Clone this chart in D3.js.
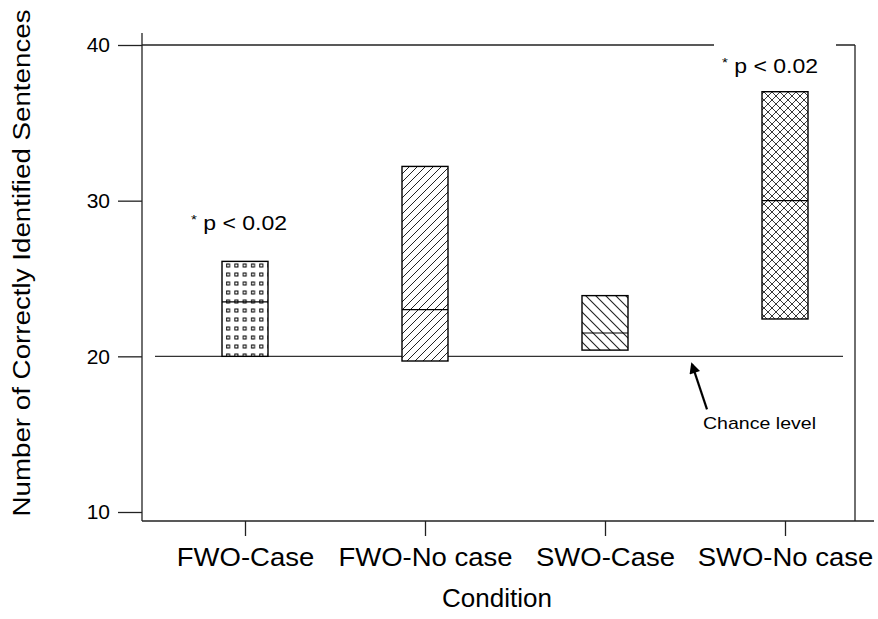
<!DOCTYPE html>
<html>
<head>
<meta charset="utf-8">
<script src="https://cdn.jsdelivr.net/npm/d3@7"></script>
<style>
  body { margin: 0; background: #fff; }
  svg { display: block; font-family: "Liberation Sans", Arial, sans-serif; }
</style>
</head>
<body>
<svg id="chart" width="878" height="619"></svg>
<script>
// Conditions and box values (low, median, high)
const conditions = ["FWO-Case", "FWO-No case", "SWO-Case", "SWO-No case"];
const lows = [20.0, 19.7, 20.4, 22.4];
const medians = [23.5, 23.0, 21.5, 30.0];
const highs = [26.1, 32.2, 23.9, 37.0];
const fills = ["squares", "forward", "back", "cross"];
const yTicks = [10, 20, 30, 40];
const chanceLevel = 20;
const noteConds = ["FWO-Case", "SWO-No case"];
const noteValues = [28.6, 38.7];

const svg = d3.select("#chart");

const y = d3.scaleLinear().domain([10, 40]).range([512, 45]);
const x = d3.scalePoint().domain(conditions).range([245, 785]);
const boxW = 46;

// the original text is drawn a bit wide, stretch it along the baseline
const widen = (sel, k) => sel.each(function () {
    const w = this.getComputedTextLength();
    d3.select(this).attr("textLength", w * k).attr("lengthAdjust", "spacingAndGlyphs");
});

// patterns
const defs = svg.append("defs");
let p = defs.append("pattern").attr("id", "squares").attr("patternUnits", "userSpaceOnUse")
    .attr("width", 8.3).attr("height", 9);
p.append("rect").attr("width", 8.3).attr("height", 9).attr("fill", "#fff");
p.append("rect").attr("x", 2.5).attr("y", 3).attr("width", 3).attr("height", 3)
    .attr("fill", "none").attr("stroke", "#000").attr("stroke-width", 1);

p = defs.append("pattern").attr("id", "forward").attr("patternUnits", "userSpaceOnUse")
    .attr("width", 8).attr("height", 8);
p.append("rect").attr("width", 8).attr("height", 8).attr("fill", "#fff");
p.append("path").attr("d", "M-2,2 L2,-2 M0,8 L8,0 M6,10 L10,6")
    .attr("stroke", "#222").attr("stroke-width", 1);

p = defs.append("pattern").attr("id", "back").attr("patternUnits", "userSpaceOnUse")
    .attr("width", 10).attr("height", 10);
p.append("rect").attr("width", 10).attr("height", 10).attr("fill", "#fff");
p.append("path").attr("d", "M-2,8 L2,12 M0,0 L10,10 M8,-2 L12,2")
    .attr("stroke", "#222").attr("stroke-width", 1.1);

p = defs.append("pattern").attr("id", "cross").attr("patternUnits", "userSpaceOnUse")
    .attr("width", 8).attr("height", 8);
p.append("rect").attr("width", 8).attr("height", 8).attr("fill", "#fff");
p.append("path").attr("d", "M0,0 L8,8 M0,8 L8,0 M-1,1 L1,-1 M7,9 L9,7 M-1,7 L1,9 M7,-1 L9,1")
    .attr("stroke", "#222").attr("stroke-width", 0.9);

defs.append("marker").attr("id", "arrow").attr("viewBox", "0 0 10 10")
    .attr("refX", 8).attr("refY", 5).attr("markerWidth", 6).attr("markerHeight", 5)
    .attr("orient", "auto")
    .append("path").attr("d", "M0,0 L10,5 L0,10 z").attr("fill", "#000");

// frame: top and right
svg.append("line").attr("x1", 142).attr("x2", 855).attr("y1", y(40)).attr("y2", y(40))
    .attr("stroke", "#222").attr("stroke-width", 1.3);
svg.append("line").attr("x1", 855).attr("x2", 855).attr("y1", y(40)).attr("y2", 521)
    .attr("stroke", "#222").attr("stroke-width", 1.3);
const gap = svg.append("rect").attr("fill", "#fff");

// y axis
const yAxis = svg.append("g").attr("transform", "translate(142,0)")
    .call(d3.axisLeft(y).tickValues(yTicks).tickSize(24).tickPadding(8));
yAxis.select(".domain").remove();
yAxis.selectAll(".tick line").attr("stroke", "#222").attr("stroke-width", 1.3);
yAxis.selectAll(".tick text").attr("font-size", 21).attr("fill", "#000")
    .attr("font-family", "Liberation Sans, Arial, sans-serif");
svg.append("line").attr("x1", 142).attr("x2", 142).attr("y1", 33).attr("y2", 521)
    .attr("stroke", "#222").attr("stroke-width", 1.3);

// x axis
const xAxis = svg.append("g").attr("transform", "translate(0,521)")
    .call(d3.axisBottom(x).tickSize(15).tickPadding(12));
xAxis.select(".domain").remove();
xAxis.selectAll(".tick line").attr("stroke", "#222").attr("stroke-width", 1.3);
xAxis.selectAll(".tick text").attr("font-size", 25).attr("fill", "#000")
    .attr("font-family", "Liberation Sans, Arial, sans-serif")
    .call(widen, 1.1);
svg.append("line").attr("x1", 142).attr("x2", 874).attr("y1", 521).attr("y2", 521)
    .attr("stroke", "#222").attr("stroke-width", 1.3);

// chance line
svg.append("line").attr("x1", 155).attr("x2", 843).attr("y1", y(chanceLevel)).attr("y2", y(chanceLevel))
    .attr("stroke", "#333").attr("stroke-width", 1.3);

// boxes
const boxes = svg.append("g").selectAll("g").data(conditions).join("g");
boxes.append("rect")
    .attr("x", d => x(d) - boxW / 2)
    .attr("width", boxW)
    .attr("y", (d, i) => y(highs[i]))
    .attr("height", (d, i) => y(lows[i]) - y(highs[i]))
    .attr("fill", (d, i) => `url(#${fills[i]})`)
    .attr("stroke", "#000").attr("stroke-width", 1.4);
boxes.append("line")
    .attr("x1", d => x(d) - boxW / 2).attr("x2", d => x(d) + boxW / 2)
    .attr("y1", (d, i) => y(medians[i])).attr("y2", (d, i) => y(medians[i]))
    .attr("stroke", "#000").attr("stroke-width", 1.2);

// significance notes
noteConds.forEach((c, i) => {
    const t = svg.append("text")
        .attr("x", x(c) - (i === 0 ? 6 : 15)).attr("y", y(noteValues[i]) + 8)
        .attr("text-anchor", "middle").attr("font-size", 20);
    t.append("tspan").attr("font-size", 13).attr("dy", -6).text("*");
    t.append("tspan").attr("dy", 6).text(" p < 0.02");
    t.call(widen, 1.15);
    if (noteValues[i] > 37) {
        const bb = t.node().getBBox();
        gap.attr("x", bb.x - 8).attr("y", y(40) - 2)
            .attr("width", bb.width + 26).attr("height", 4);
    }
});

// chance level annotation
svg.append("line").attr("x1", 707).attr("x2", 692)
    .attr("y1", y(chanceLevel) + 53).attr("y2", y(chanceLevel) + 8)
    .attr("stroke", "#000").attr("stroke-width", 2.2)
    .attr("marker-end", "url(#arrow)");
svg.append("text").attr("x", 703).attr("y", y(chanceLevel) + 73)
    .attr("font-size", 17).text("Chance level").call(widen, 1.15);

// axis titles
svg.append("text").attr("x", 497).attr("y", 607).attr("text-anchor", "middle")
    .attr("font-size", 26).text("Condition");
svg.append("text").attr("transform", "translate(30,263) rotate(-90)")
    .attr("text-anchor", "middle").attr("font-size", 23.5)
    .text("Number of Correctly Identified Sentences").call(widen, 1.18);
</script>
</body>
</html>
